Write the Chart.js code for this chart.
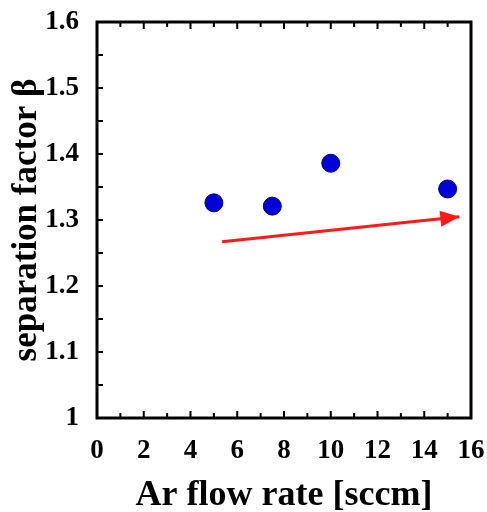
<!DOCTYPE html>
<html>
<head>
<meta charset="utf-8">
<script src="https://cdn.jsdelivr.net/npm/chart.js@4"></script>
<style>
  body { margin: 0; background: #fff; }
  canvas { display: block; }
</style>
</head>
<body>
<canvas id="grafico" width="487" height="512"></canvas>
<script>
// Datos
const flujoAr = [5, 7.5, 10, 15];
const factorBeta = [1.326, 1.321, 1.386, 1.347];

// Flecha de tendencia (inicio y punta)
const flechaX = [5.35, 15.5];
const flechaY = [1.267, 1.305];

const ticksX = [0, 2, 4, 6, 8, 10, 12, 14, 16];
const ticksY = [1, 1.1, 1.2, 1.3, 1.4, 1.5, 1.6];

const fuenteSerif = '"Liberation Serif", "Times New Roman", serif';

// Marco, marcas interiores y punta de flecha
const marcoPlugin = {
    id: 'marco',
    afterDraw(chart) {
        const { ctx, chartArea: a, scales } = chart;
        const sx = scales.x, sy = scales.y;
        ctx.save();
        ctx.strokeStyle = '#000';
        ctx.lineWidth = 2;
        // marcas del eje x (abajo y arriba)
        for (let v = 1; v < 16; v++) {
            const px = sx.getPixelForValue(v);
            const len = v % 2 === 0 ? 7 : 5;
            ctx.beginPath();
            ctx.moveTo(px, a.bottom);
            ctx.lineTo(px, a.bottom - len);
            ctx.moveTo(px, a.top);
            ctx.lineTo(px, a.top + len);
            ctx.stroke();
        }
        // marcas del eje y (izquierda)
        for (let i = 1; i < 12; i++) {
            const py = sy.getPixelForValue(1 + i * 0.05);
            ctx.beginPath();
            ctx.moveTo(a.left, py);
            ctx.lineTo(a.left + 6, py);
            ctx.stroke();
        }
        // marco
        ctx.lineWidth = 3;
        ctx.strokeRect(a.left, a.top, a.right - a.left, a.bottom - a.top);

        // punta de flecha
        const meta = chart.getDatasetMeta(1);
        const p0 = meta.data[0], p1 = meta.data[1];
        const ang = Math.atan2(p1.y - p0.y, p1.x - p0.x);
        const largo = 19, ancho = 8;
        ctx.fillStyle = '#ff1a1a';
        ctx.beginPath();
        ctx.moveTo(p1.x, p1.y);
        ctx.lineTo(p1.x - largo * Math.cos(ang) + ancho * Math.sin(ang), p1.y - largo * Math.sin(ang) - ancho * Math.cos(ang));
        ctx.lineTo(p1.x - largo * Math.cos(ang) - ancho * Math.sin(ang), p1.y - largo * Math.sin(ang) + ancho * Math.cos(ang));
        ctx.closePath();
        ctx.fill();
        ctx.restore();
    }
};

const ctx = document.getElementById('grafico').getContext('2d');
const chart = new Chart(ctx, {
    type: 'scatter',
    data: {
        datasets: [{
            label: 'beta',
            data: flujoAr.map((x, i) => ({ x: x, y: factorBeta[i] })),
            backgroundColor: '#0000d8',
            borderColor: '#00007a',
            borderWidth: 1,
            pointRadius: 9
        }, {
            label: 'flecha',
            type: 'line',
            data: flechaX.map((x, i) => ({ x: x, y: flechaY[i] })),
            borderColor: '#ff1a1a',
            borderWidth: 3,
            pointRadius: 0,
            showLine: true,
            fill: false
        }]
    },
    options: {
        responsive: false,
        animation: false,
        layout: { padding: { top: 22, right: 16, left: 0, bottom: 0 } },
        plugins: { legend: { display: false }, tooltip: { enabled: false } },
        scales: {
            x: {
                type: 'linear',
                min: 0,
                max: 16,
                afterBuildTicks: s => { s.ticks = ticksX.map(v => ({ value: v })); },
                afterFit: s => { s.height = 94; s.paddingLeft = 0; s.paddingRight = 0; },
                grid: { display: false },
                border: { display: false },
                ticks: {
                    padding: 9,
                    color: '#000',
                    font: { family: fuenteSerif, size: 27, weight: 'bold' }
                },
                title: {
                    display: true,
                    text: 'Ar flow rate [sccm]',
                    color: '#000',
                    padding: { top: 0, bottom: -2 },
                    font: { family: fuenteSerif, size: 36, weight: 'bold', lineHeight: 1 }
                }
            },
            y: {
                type: 'linear',
                min: 1,
                max: 1.6,
                afterBuildTicks: s => { s.ticks = ticksY.map(v => ({ value: v })); },
                afterFit: s => { s.width = 97; s.paddingTop = 0; s.paddingBottom = 0; },
                grid: { display: false },
                border: { display: false },
                ticks: {
                    padding: 10,
                    color: '#000',
                    font: { family: fuenteSerif, size: 27, weight: 'bold' },
                    callback: v => v === 1 ? '1' : v.toFixed(1)
                },
                title: {
                    display: true,
                    text: 'separation factor β',
                    color: '#000',
                    padding: { top: 9, bottom: 0 },
                    font: { family: fuenteSerif, size: 35, weight: 'bold', lineHeight: 1 }
                }
            }
        }
    },
    plugins: [marcoPlugin]
});
</script>
</body>
</html>
